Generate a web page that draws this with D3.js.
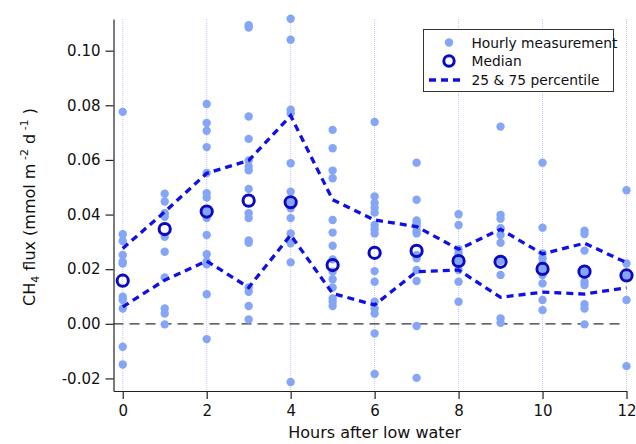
<!DOCTYPE html>
<html>
<head>
<meta charset="utf-8">
<script src="https://cdn.jsdelivr.net/npm/d3@7"></script>
<style>
  html, body { margin: 0; padding: 0; background: #fff; }
  svg { display: block; }
  text { font-family: "DejaVu Sans", sans-serif; fill: #111; }
</style>
</head>
<body>
<svg id="chart" width="636" height="444"></svg>
<script>
// ---- Data ----
const hours = [0, 1, 2, 3, 4, 5, 6, 7, 8, 9, 10, 11, 12];

const hourly = [
  [0.0776, 0.0328, 0.0303, 0.0252, 0.0227, 0.0221, 0.0099, 0.0087, 0.0056, -0.0084, -0.0149],
  [0.0476, 0.0448, 0.0405, 0.0392, 0.0319, 0.0264, 0.0170, 0.0056, 0.0038, -0.0002],
  [0.0805, 0.0735, 0.0707, 0.0647, 0.0552, 0.0478, 0.0462, 0.0411, 0.0387, 0.0325, 0.0255, 0.0228, 0.0218, 0.0108, -0.0056],
  [0.1093, 0.1085, 0.0759, 0.0677, 0.0598, 0.0576, 0.0562, 0.0494, 0.0405, 0.0387, 0.0305, 0.0297, 0.0133, 0.0117, 0.0065, 0.0016],
  [0.1117, 0.1040, 0.0784, 0.0770, 0.0588, 0.0484, 0.0444, 0.0423, 0.0387, 0.0331, 0.0295, 0.0225, -0.0213],
  [0.0710, 0.0643, 0.0561, 0.0533, 0.0380, 0.0334, 0.0286, 0.0236, 0.0191, 0.0163, 0.0133, 0.0093, 0.0081, 0.0065],
  [0.0739, 0.0466, 0.0442, 0.0425, 0.0407, 0.0362, 0.0346, 0.0331, 0.0193, 0.0154, 0.0081, 0.0056, 0.0038, -0.0035, -0.0184],
  [0.0590, 0.0454, 0.0378, 0.0368, 0.0356, 0.0341, 0.0331, 0.0252, 0.0240, 0.0197, 0.0157, -0.0008, -0.0198],
  [0.0401, 0.0362, 0.0273, 0.0258, 0.0230, 0.0197, 0.0154, 0.0081],
  [0.0722, 0.0399, 0.0385, 0.0350, 0.0325, 0.0297, 0.0230, 0.0179, 0.0020, 0.0004],
  [0.0590, 0.0352, 0.0258, 0.0240, 0.0221, 0.0201, 0.0179, 0.0148, 0.0087, 0.0050],
  [0.0341, 0.0329, 0.0268, 0.0191, 0.0154, 0.0142, 0.0072, 0.0056, -0.0002],
  [0.0489, 0.0221, 0.0177, 0.0087, -0.0155]
];

const median = [0.0158, 0.0347, 0.0411, 0.0451, 0.0445, 0.0215, 0.0260, 0.0267, 0.0230, 0.0227, 0.0201, 0.0191, 0.0177];
const p75    = [0.0276, 0.0410, 0.0551, 0.0598, 0.0762, 0.0454, 0.0380, 0.0356, 0.0273, 0.0346, 0.0256, 0.0295, 0.0224];
const p25    = [0.0062, 0.0160, 0.0230, 0.0133, 0.0325, 0.0111, 0.0069, 0.0191, 0.0197, 0.0097, 0.0116, 0.0109, 0.0132];

const xTicks = [0, 2, 4, 6, 8, 10, 12];
const yTicks = [-0.02, 0.00, 0.02, 0.04, 0.06, 0.08, 0.10];

const legendLabels = ["Hourly measurement", "Median", "25 & 75 percentile"];

// ---- Styling ----
const dotColor = "#85a5f7";
const medianColor = "#0a0ac4";
const pctColor = "#0f0fe8";

const svg = d3.select("#chart");

const x = d3.scaleLinear().domain([-0.22, 12.0]).range([113.5, 626.5]);
const y = d3.scaleLinear().domain([-0.0246, 0.1116]).range([391, 19]);

// vertical grid at major ticks
svg.append("g").selectAll("line").data(xTicks).join("line")
  .attr("x1", d => x(d)).attr("x2", d => x(d))
  .attr("y1", y.range()[1]).attr("y2", y.range()[0])
  .attr("stroke", "#c4c4fa").attr("stroke-width", 1)
  .attr("stroke-dasharray", "1,1");

// zero line
svg.append("line")
  .attr("x1", x.range()[0]).attr("x2", x(11.9))
  .attr("y1", y(0)).attr("y2", y(0))
  .attr("stroke", "#333").attr("stroke-width", 1.2)
  .attr("stroke-dasharray", "10,6");

// hourly points
const pts = [];
hourly.forEach((vals, i) => vals.forEach(v => pts.push({h: hours[i], v})));
svg.append("g").selectAll("circle").data(pts).join("circle")
  .attr("cx", d => x(d.h)).attr("cy", d => y(d.v)).attr("r", 4.2)
  .attr("fill", dotColor);

// percentile lines
const line = d3.line().x((d, i) => x(hours[i])).y(d => y(d));
[p75, p25].forEach(arr => {
  svg.append("path").datum(arr)
    .attr("d", line)
    .attr("fill", "none").attr("stroke", pctColor)
    .attr("stroke-width", 3.3).attr("stroke-dasharray", "7,5");
});

// medians
svg.append("g").selectAll("circle").data(median).join("circle")
  .attr("cx", (d, i) => x(hours[i])).attr("cy", d => y(d)).attr("r", 5.6)
  .attr("fill", "none").attr("stroke", medianColor).attr("stroke-width", 3);

// axes
const f2 = d3.format(".2f");
const xAxis = d3.axisBottom(x).tickValues(xTicks).tickFormat(d3.format("d"))
  .tickSize(8).tickSizeOuter(0).tickPadding(6);
const yAxis = d3.axisLeft(y).tickValues(yTicks).tickFormat(d => f2(d).replace("\u2212", "-"))
  .tickSize(8).tickSizeOuter(0).tickPadding(5);

const gx = svg.append("g").attr("transform", `translate(0,${y.range()[0]})`).call(xAxis);
const gy = svg.append("g").attr("transform", `translate(${x.range()[0]},0)`).call(yAxis);
[gx, gy].forEach(g => {
  g.select(".domain").attr("stroke", "#222").attr("stroke-width", 1.2);
  g.selectAll(".tick line").attr("stroke", "#222").attr("stroke-width", 1.2);
  g.selectAll(".tick text").attr("font-family", "DejaVu Sans, sans-serif")
    .attr("font-size", 15).attr("fill", "#111");
});

// axis titles
svg.append("text").attr("x", (x(0) + x(12)) / 2).attr("y", 438)
  .attr("text-anchor", "middle").attr("font-size", 16)
  .text("Hours after low water");

const yt = svg.append("text")
  .attr("transform", "translate(35,207) rotate(-90)")
  .attr("text-anchor", "middle").attr("font-size", 16);
yt.append("tspan").text("CH");
yt.append("tspan").attr("font-size", 11).attr("dy", 4).text("4");
yt.append("tspan").attr("dy", -4).text(" flux  (mmol m");
yt.append("tspan").attr("font-size", 11).attr("dy", -7).text(" -2");
yt.append("tspan").attr("dy", 7).text("  d");
yt.append("tspan").attr("font-size", 11).attr("dy", -7).text(" -1");
yt.append("tspan").attr("dy", 7).text(" )");

// legend
const lg = svg.append("g");
lg.append("rect").attr("x", 423.5).attr("y", 29.5).attr("width", 190).attr("height", 62)
  .attr("fill", "#fff").attr("stroke", "#333").attr("stroke-width", 1);
const ly = [42.5, 61, 80];
lg.append("circle").attr("cx", 449).attr("cy", ly[0]).attr("r", 4.2).attr("fill", dotColor);
lg.append("circle").attr("cx", 449).attr("cy", ly[1]).attr("r", 5.2)
  .attr("fill", "none").attr("stroke", medianColor).attr("stroke-width", 3);
lg.append("line").attr("x1", 429).attr("x2", 465).attr("y1", ly[2]).attr("y2", ly[2])
  .attr("stroke", pctColor).attr("stroke-width", 3.3).attr("stroke-dasharray", "7,5");
legendLabels.forEach((t, i) => {
  lg.append("text").attr("x", 471.5).attr("y", ly[i] + 5).attr("font-size", 13.8).text(t);
});
</script>
</body>
</html>
